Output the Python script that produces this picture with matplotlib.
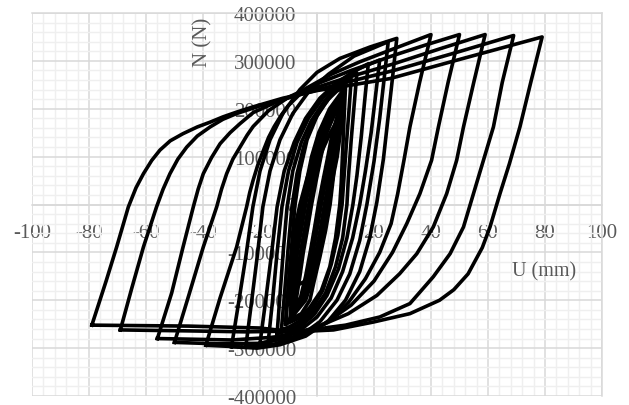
import numpy as np
import matplotlib
matplotlib.use("Agg")
import matplotlib.pyplot as plt

plt.rcParams['font.family'] = ['Liberation Serif', 'DejaVu Serif']
plt.rcParams['axes.unicode_minus'] = False

# hysteresis loops, U (mm) and N (N)
# each loop: negative peak -> positive peak -> back to negative peak
a_u = [-79, -74, -70.3, -66.2, -63.5, -60.9, -58, -55.1, -51.5, -47, -42, -37.5, -33, -28.2, -22.4, -12, 0, 11.6, 25.6, 50, 79,
       75, 71.2, 67.5, 64.2, 60.7, 58, 53, 48, 43, 32.6, 19.8, 5.8, -8, -20, -45, -79]
a_n = [-252000, -160000, -88800, -5200, 35000, 64300, 92000, 113700, 133000, 148000, 162000, 172000, 183000, 193000, 204000, 222000, 238000, 249000, 263000, 303000, 350000,
       255000, 162000, 85000, 22600, -47000, -90000, -145000, -178000, -200000, -228000, -245500, -262000, -266000, -258000, -254000, -252000]

b_u = [-69, -65, -60.9, -56.3, -54, -51.6, -48.8, -45.7, -42, -37.5, -33, -28.2, -20, -8, 8, 27, 48, 69,
       65, 61.9, 58.4, 54.9, 51.4, 46.7, 40.8, 32.6, 22, 10, -5, -25, -45, -69]
b_n = [-262000, -175000, -88800, -5000, 32000, 64300, 95000, 120000, 143000, 162000, 178000, 190000, 206000, 226000, 252000, 280000, 316000, 353000,
       255000, 162000, 92300, 22600, -47000, -102800, -151000, -207000, -235000, -252000, -264000, -266000, -264000, -262000]

c_u = [-56, -51, -47, -43.4, -41.7, -39.9, -37, -34, -30.5, -27, -22.4, -15, -5, 10, 27, 43, 59,
       55, 51.4, 49, 45.5, 40.8, 35, 29, 21, 11, 0, -12, -30, -56]
c_n = [-280000, -185000, -88800, -5000, 32000, 64300, 98000, 127000, 150000, 169000, 192000, 212000, 235000, 264000, 294000, 325000, 355000,
       255000, 162000, 92300, 22600, -47000, -103000, -144600, -190000, -228000, -256000, -276000, -283000, -280000]

d_u = [-50, -45, -39.9, -35.2, -33.5, -31.7, -29.5, -27, -24.5, -22.4, -17, -10, 0, 12, 27, 38, 50,
       46, 42.6, 40.2, 36.1, 31.5, 26.5, 20, 12, 3, -8, -20, -35, -50]
d_n = [-288000, -190000, -88800, -5000, 32000, 64300, 95000, 120000, 145000, 163000, 196000, 224000, 252000, 280000, 311700, 333000, 355000,
       255000, 162000, 92300, 22600, -40000, -100000, -160000, -210000, -248000, -276000, -290000, -291000, -288000]

e_u = [-39, -34, -28.2, -24.7, -23.6, -22.4, -20.8, -19, -17, -15, -12.5, -10, -4, 5, 15, 27, 40,
       36, 32.6, 30.5, 28.3, 26, 22, 17, 11, 4, -5, -15, -25, -39]
e_n = [-294000, -195000, -88800, -5000, 25000, 51000, 82000, 110000, 140000, 163000, 187000, 207000, 242000, 272000, 298000, 325500, 355000,
       255000, 162000, 92000, 22000, -40000, -100000, -155000, -205000, -245000, -275000, -292000, -298000, -294000]

f_u = [-30, -27.5, -25, -22.5, -20, -16.5, -12, -6, 0, 8, 18.6, 28,
       26.5, 25, 23.3, 21, 18.5, 15, 10, 4, -4, -13, -21, -30]
f_n = [-297000, -205000, -110000, -5000, 70000, 135000, 190000, 240000, 276000, 305000, 329000, 347000,
       265000, 185000, 95000, 5000, -70000, -140000, -200000, -243000, -275000, -293000, -300000, -297000]

g_u = [-25, -23, -21, -19, -16.5, -13, -8.5, -3, 4, 13, 25,
       23.5, 22, 20, 17.5, 15, 11.5, 7, 1, -6, -15, -25]
g_n = [-298000, -205000, -110000, -5000, 70000, 135000, 190000, 235000, 272000, 310000, 340000,
       260000, 180000, 90000, 0, -75000, -145000, -200000, -245000, -275000, -292000, -298000]

h_u = [-20, -18, -16, -14, -11.5, -8, -4, 1, 7, 14, 22,
       20.5, 19, 17, 15, 12.5, 9, 5, 0, -6, -13, -20]
h_n = [-290000, -200000, -105000, -5000, 70000, 130000, 180000, 222000, 255000, 282000, 302000,
       225000, 150000, 70000, 0, -70000, -140000, -195000, -235000, -263000, -281000, -290000]

i_u = [-17, -15.5, -14, -12.3, -10, -7, -3, 2, 8, 13, 18,
       16.7, 15.5, 14, 12.6, 10.5, 7.5, 3.5, -1, -6, -11, -17]
i_n = [-280000, -195000, -100000, -5000, 70000, 130000, 180000, 222000, 256000, 278000, 294000,
       215000, 140000, 60000, 0, -70000, -135000, -190000, -230000, -256000, -272000, -280000]

j1_u = [-14, -13, -11.8, -10.5, -8.5, -5.5, -2, 2.5, 7, 11, 14,
        13, 12, 11, 10.5, 9, 6.5, 3, -1.5, -6, -10, -14]
j1_n = [-270000, -190000, -95000, -5000, 70000, 130000, 175000, 215000, 245000, 264000, 275000,
        205000, 135000, 55000, 0, -70000, -130000, -185000, -225000, -250000, -263000, -270000]

j2_u = [-12.5, -11.3, -10.1, -8.8, -7, -4.5, -1.5, 2, 6, 9.5, 12,
        11.2, 10.3, 9.4, 8.8, 7.3, 5, 2, -2, -6, -9.5, -12.5]
j2_n = [-262000, -180000, -90000, -5000, 65000, 125000, 170000, 205000, 235000, 252000, 262000,
        195000, 125000, 50000, 0, -65000, -125000, -180000, -220000, -243000, -255000, -262000]

j3_u = [-11, -10, -9, -7.8, -6, -3.5, 0, 4, 7, 10, 9.5, 9, 8.5, 8, 6.5, 4.5, 1.5, -2.5, -6.5, -11]
j3_n = [-250000, -170000, -95000, -5000, 70000, 135000, 185000, 220000, 237000, 245000,
        180000, 110000, 45000, 0, -70000, -130000, -180000, -215000, -238000, -250000]

# dense core of small cycles
c0_u = [-11, -10.5, -9.3, -7.8, -6, -3.5, -0.5, 2.5, 4.6, 7, 9.5,
        9, 8, 6.8, 5.7, 4.6, 3, 1, -1, -2.5, -5.5, -11]
c0_n = [-245000, -200000, -120000, -50000, 0, 55000, 110000, 155000, 183000, 215000, 240000,
        215000, 183000, 120000, 55000, 0, -55000, -110000, -160000, -200000, -228000, -245000]

c1_u = [-9.5, -9.0, -8.0, -6.7, -5.2, -3.1, -0.5, 2.0, 3.8, 5.8, 8.0,
        7.5, 6.7, 5.7, 4.7, 3.8, 2.4, 0.7, -1.0, -2.2, -4.8, -9.5]
c1_n = [-208000, -170000, -102000, -42500, 0, 47000, 93500, 132000, 155500, 183000, 204000,
        183000, 155500, 102000, 47000, 0, -47000, -93500, -136000, -170000, -194000, -208000]

c2_u = [-7.9, -7.6, -6.7, -5.7, -4.4, -2.7, -0.6, 1.5, 3.0, 4.7, 6.4,
        6.1, 5.4, 4.6, 3.8, 3.0, 1.9, 0.5, -0.9, -2.0, -4.1, -7.9]
c2_n = [-171500, -140000, -84000, -35000, 0, 38500, 77000, 108500, 128000, 150500, 168000,
        150500, 128000, 84000, 38500, 0, -38500, -77000, -112000, -140000, -160000, -171500]

w1_u = [-9.5, -9.0, -8.8, -8.1, -6.6, -5.2, -3.6, -1.9, 0.6, 4.4, 9.3,
        9.4, 8.2, 7.1, 5.4, 3.8, 2.4, 0.9, -1.2, -4.0, -9.5]
w1_n = [-240000, -200000, -150000, -100000, -50000, 0, 50000, 100000, 150000, 200000, 240000,
        200000, 150000, 100000, 50000, 0, -50000, -100000, -150000, -200000, -240000]

w2_u = [-9.2, -8.3, -7.8, -6.9, -5.4, -4.0, -2.4, -0.7, 1.6, 5.1, 8.8,
        8.7, 7.2, 5.9, 4.2, 2.6, 1.2, -0.3, -2.2, -4.7, -9.2]
w2_n = [-235000, -200000, -150000, -100000, -50000, 0, 50000, 100000, 150000, 200000, 232000,
        200000, 150000, 100000, 50000, 0, -50000, -100000, -150000, -200000, -235000]

w3_u = [-8.9, -7.7, -6.9, -5.8, -4.3, -2.9, -1.3, 0.4, 2.5, 5.7, 8.4,
        8.1, 6.3, 4.8, 3.1, 1.5, 0.1, -1.4, -3.1, -5.3, -8.9]
w3_n = [-228000, -200000, -150000, -100000, -50000, 0, 50000, 100000, 150000, 200000, 225000,
        200000, 150000, 100000, 50000, 0, -50000, -100000, -150000, -200000, -228000]

w4_u = [-8.5, -7.2, -6.0, -4.8, -3.3, -1.9, -0.3, 1.4, 3.4, 6.2, 8.0,
        7.6, 5.4, 3.8, 2.1, 0.5, -0.9, -2.4, -4.0, -5.8, -8.5]
w4_n = [-222000, -195000, -150000, -100000, -50000, 0, 50000, 100000, 150000, 195000, 218000,
        195000, 150000, 100000, 50000, 0, -50000, -100000, -150000, -195000, -222000]

loops = [(a_u, a_n), (b_u, b_n), (c_u, c_n), (d_u, d_n), (e_u, e_n), (f_u, f_n),
         (g_u, g_n), (h_u, h_n), (i_u, i_n), (j1_u, j1_n), (j2_u, j2_n), (j3_u, j3_n),
         (c0_u, c0_n), (c1_u, c1_n), (c2_u, c2_n),
         (w1_u, w1_n), (w2_u, w2_n), (w3_u, w3_n), (w4_u, w4_n)]

x_ticks = [-100, -80, -60, -40, -20, 0, 20, 40, 60, 80, 100]
y_ticks = [-400000, -300000, -200000, -100000, 0, 100000, 200000, 300000, 400000]

fig = plt.figure(figsize=(6.29, 4.06), dpi=100)
ax = fig.add_axes([32/629, 1 - 397/406, 570/629, 383/406])

for u, n in loops:
    ax.plot(u, n, color='black', lw=2.6, solid_joinstyle='round', zorder=3)

ax.set_xlim(-100, 100)
ax.set_ylim(-400000, 400000)
ax.set_xticks(x_ticks)
ax.set_xticklabels([str(v) for v in x_ticks])
ax.set_yticks(y_ticks)
ax.set_yticklabels([str(v) for v in y_ticks])
ax.set_xticks(np.arange(-100, 101, 4), minor=True)
ax.set_yticks(np.arange(-400000, 400001, 20000), minor=True)

ax.set_axisbelow(True)
ax.grid(which='minor', color='#efefef', lw=1.0)
ax.grid(which='major', color='#d9d9d9', lw=1.1)

ax.spines['left'].set_position(('data', 0))
ax.spines['bottom'].set_position(('data', 0))
for s in ax.spines.values():
    s.set_color('#d9d9d9')
    s.set_linewidth(1.1)

ax.tick_params(which='both', length=0, labelsize=15, labelcolor='#595959')
ax.tick_params(axis='y', pad=15)
ax.tick_params(axis='x', pad=13)

ax.text(-40, 340000, 'N (N)', rotation=90, ha='center', va='center',
        fontsize=15, color='#595959')
ax.text(79.6, -139000, 'U (mm)', ha='center', va='center',
        fontsize=14.5, color='#595959')

fig.savefig('out.png', dpi=100)
